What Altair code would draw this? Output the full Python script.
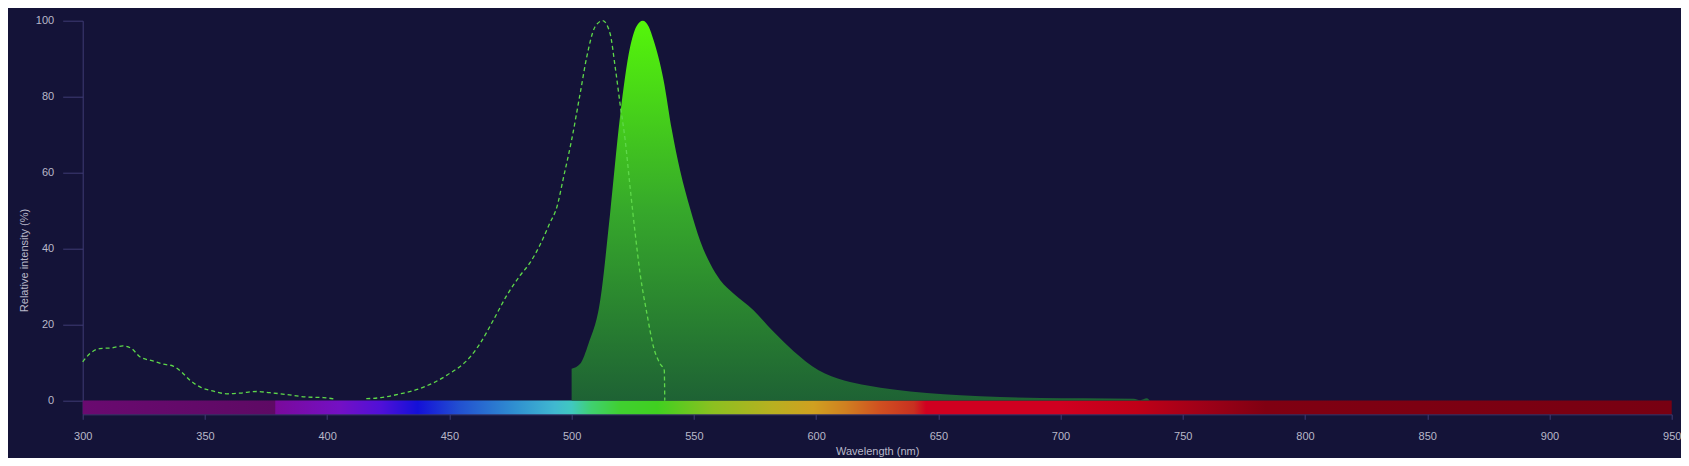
import altair as alt
import pandas as pd

# Excitation spectrum (dashed), two segments (gap in data ~403-416 nm)
ex_wl = [300, 303, 307, 312, 316.5, 320, 323.5, 329, 333, 337, 340.5, 344, 348, 353.5, 359,
         364.5, 371, 376.5, 383.5, 391.5, 398.5, 403,
         416, 422, 430, 438, 449, 458.5, 462.5, 468, 473.5, 479, 483, 487, 491, 494, 496.6,
         500, 503.5, 506.2, 509.6, 512.7, 515.7, 517.8, 519.8, 521.9, 523.9, 526, 528, 530.8,
         533.5, 536.2, 537.9, 538.1]
ex_val = [10.2, 12.4, 13.7, 13.9, 14.4, 13.7, 11.5, 10.4, 9.6, 9.1, 7.5, 5.3, 3.6, 2.5, 1.8,
          2.0, 2.4, 2.1, 1.6, 0.95, 0.8, 0.4,
          0.5, 0.8, 1.8, 3.2, 6.7, 11.5, 15, 21.2, 27.7, 33, 36.3, 40.9, 46.6, 51, 58.5,
          68.6, 80.9, 90.5, 98.4, 100, 96.7, 87.9, 78.2, 68.6, 56.3, 44, 33.5, 22.9,
          14.1, 9.7, 8.0, 0]
ex_seg = ["a"] * 22 + ["b"] * 32

# Emission spectrum (filled area)
em_wl = [500, 503.5, 506.9, 511.7, 515.7, 519.8, 523.9, 526.5, 529.1, 531.5, 533.5, 537.6, 541,
         544.4, 548.5, 552.6, 556.7, 560.8, 566.2, 574.4, 582.6, 590.8, 601, 611.5, 621,
         631.7, 645.3, 659, 675.3, 691.7, 709.4, 729.9, 732.6, 735.3, 736.5]
em_val = [8.4, 9.7, 15, 26.4, 49, 74.7, 93, 98.5, 100, 98.5, 94.9, 84.4, 71.2,
          60.5, 50.5, 42, 36, 31.7, 28.2, 23.8, 18.1, 13.0, 8.0, 5.3, 4.0,
          2.9, 2.0, 1.4, 0.95, 0.7, 0.6, 0.5, 0.1, 0.6, 0]

# Visible-spectrum colour bar stops
spec_wl = [300, 378.5, 379, 405, 422, 437, 454, 477, 493, 500, 508, 520, 535, 558, 582, 599,
           612, 626, 640, 645, 700, 731, 757, 784, 950]
spec_col = ["#6a0a70", "#5e0a64", "#7a0a9c", "#7410c4", "#5010d8", "#1410d8", "#2250d0",
            "#3090d0", "#40b8d0", "#40c8c0", "#40d070", "#40d030", "#40d020", "#8cc020",
            "#b8b020", "#d0a020", "#d08020", "#d05020", "#c83020", "#d00020", "#d00020",
            "#c00018", "#a00018", "#800012", "#780012"]

x_ticks = list(range(300, 951, 50))
y_ticks = [0, 20, 40, 60, 80, 100]

BG = "#141338"
AXIS = "#3f3c74"
TEXT = "#b9b8c9"
FONT = "Liberation Sans"

ex_df = pd.DataFrame({"wl": ex_wl, "val": ex_val, "seg": ex_seg})
em_df = pd.DataFrame({"wl": em_wl, "val": em_val})
bar_df = pd.DataFrame({"wl": [300], "wl2": [950], "val": [-3.6], "val2": [0]})

x_scale = alt.Scale(domain=[300, 950], nice=False, zero=False)
y_scale = alt.Scale(domain=[-3.6, 100], nice=False, zero=False)

x_axis = alt.Axis(values=x_ticks, title="Wavelength (nm)", grid=False,
                  domainColor=AXIS, tickColor=AXIS, tickSize=5, labelFlush=False,
                  labelColor=TEXT, labelFont=FONT, labelFontSize=11, labelPadding=11,
                  titleColor=TEXT, titleFont=FONT, titleFontSize=11, titleFontWeight="normal",
                  titleY=40.3, titleBaseline="alphabetic")
y_axis = alt.Axis(values=y_ticks, title="Relative intensity (%)", grid=False,
                  domainColor=AXIS, tickColor=AXIS, tickSize=20,
                  labelColor=TEXT, labelFont=FONT, labelFontSize=11, labelPadding=9,
                  titleColor=TEXT, titleFont=FONT, titleFontSize=11, titleFontWeight="normal",
                  titleAngle=270, titleAlign="center", titleBaseline="middle",
                  titleX=-58, titleY=239.3)

X = alt.X("wl:Q", scale=x_scale, axis=x_axis)
Y = alt.Y("val:Q", scale=y_scale, axis=y_axis)

spec_grad = alt.LinearGradient(
    gradient="linear", x1=0, x2=1, y1=0, y2=0,
    stops=[alt.GradientStop(color=c, offset=(w - 300) / 650) for w, c in zip(spec_wl, spec_col)])

bar = alt.Chart(bar_df).mark_rect(color=spec_grad).encode(x=X, x2="wl2:Q", y=Y, y2="val2:Q")

em_grad = alt.LinearGradient(
    gradient="linear", x1=0, x2=0, y1=0, y2=1,
    stops=[alt.GradientStop(color="#55f60a", offset=0),
           alt.GradientStop(color="#36a82b", offset=0.5),
           alt.GradientStop(color="#1e6234", offset=1)])

area = alt.Chart(em_df).mark_area(color=em_grad, interpolate="monotone").encode(x=X, y=Y)

line = alt.Chart(ex_df).mark_line(color="#5ed84a", strokeWidth=1.3, strokeDash=[4, 3],
                                  interpolate="monotone").encode(x=X, y=Y, detail="seg:N")

chart = alt.layer(bar, area, line).properties(
    width=1589, height=393.6,
    autosize=alt.AutoSizeParams(type="none"),
    padding={"left": 74.7, "top": 12.7, "right": 9.3, "bottom": 43.7},
    background=BG,
).configure_view(strokeWidth=0)

chart.save("out.html", embed_options={"renderer": "svg", "actions": False})
